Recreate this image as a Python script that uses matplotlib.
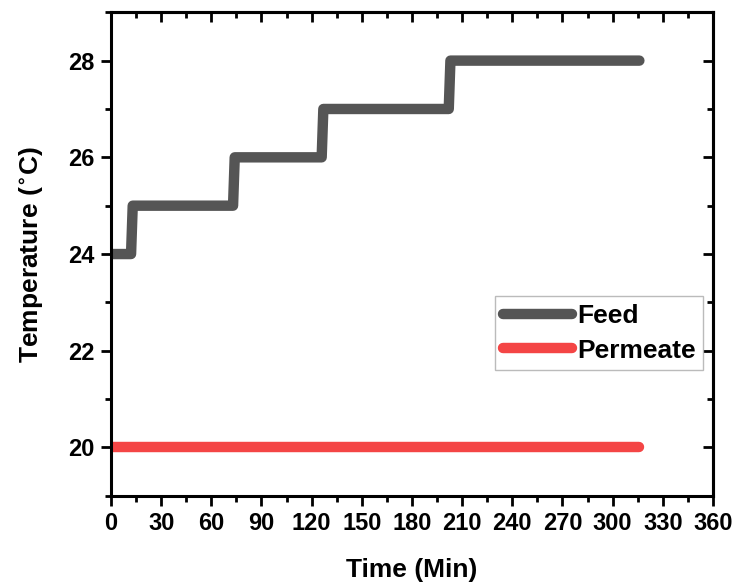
import matplotlib.pyplot as plt
from matplotlib.ticker import MultipleLocator

plt.rcParams['font.family'] = ['Liberation Sans', 'DejaVu Sans']
plt.rcParams['font.weight'] = 'bold'
plt.rcParams['mathtext.default'] = 'bf'

# step profile of the feed temperature (minutes, deg C)
feed_time = [0, 12, 13, 73, 74, 126, 127, 202, 203, 316]
feed_temp = [24, 24, 25, 25, 26, 26, 27, 27, 28, 28]

perm_time = [0, 316]
perm_temp = [20, 20]

fig = plt.figure(figsize=(7.35, 5.84), dpi=100)
ax = fig.add_axes([0.151, 0.151, 0.819, 0.828])

ax.plot(feed_time, feed_temp, color='#555555', lw=7.5, solid_capstyle='round',
        solid_joinstyle='round', label='Feed')
ax.plot(perm_time, perm_temp, color='#f44545', lw=7.5, solid_capstyle='round',
        label='Permeate')

ax.set_xlim(0, 360)
ax.set_ylim(19, 29)
ax.set_xticks(range(0, 361, 30))
ax.set_yticks([20, 22, 24, 26, 28])
ax.xaxis.set_minor_locator(MultipleLocator(15))
ax.yaxis.set_minor_locator(MultipleLocator(1))

for s in ax.spines.values():
    s.set_linewidth(2.2)

ax.tick_params(which='both', direction='out', width=2, labelsize=17, pad=5)
ax.tick_params(which='major', length=7)
ax.tick_params(which='minor', length=4)

# mirror ticks on top and right, pointing inward, no labels
top = ax.secondary_xaxis('top')
top.set_xticks(range(0, 361, 30))
top.xaxis.set_minor_locator(MultipleLocator(15))
right = ax.secondary_yaxis('right')
right.set_yticks([20, 22, 24, 26, 28])
right.yaxis.set_minor_locator(MultipleLocator(1))
for sec in (top, right):
    sec.tick_params(which='both', direction='in', width=2, labelleft=False,
                    labelright=False, labeltop=False, labelbottom=False)
    sec.tick_params(which='major', length=7)
    sec.tick_params(which='minor', length=4)
    for s in sec.spines.values():
        s.set_linewidth(2.2)

ax.set_xlabel('Time (Min)', fontsize=19, fontweight='bold', labelpad=16)
ax.set_ylabel(r'Temperature ($^{\circ}$C)', fontsize=19, fontweight='bold', labelpad=16)

leg = ax.legend(loc='upper left', bbox_to_anchor=(0.638, 0.413), fontsize=19,
                frameon=True, fancybox=False, handlelength=2.6, handletextpad=0.2,
                borderpad=0.3, labelspacing=0.4, borderaxespad=0)
leg.get_frame().set_edgecolor('#aaaaaa')
leg.get_frame().set_linewidth(1)

fig.savefig('out.png', dpi=100)
